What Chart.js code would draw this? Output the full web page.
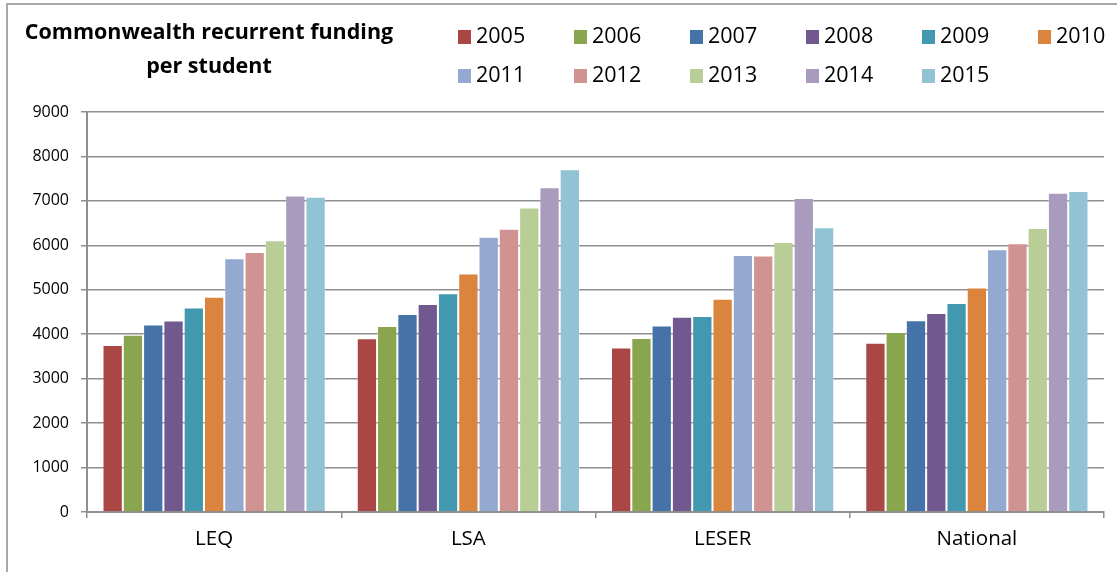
<!DOCTYPE html>
<html>
<head>
<meta charset="utf-8">
<script src="https://cdn.jsdelivr.net/npm/chart.js@4.4.1/dist/chart.umd.min.js"></script>
<style>
  html, body { margin: 0; padding: 0; background: #fff; overflow: hidden; }
  #wrap { position: relative; width: 1117px; height: 572px; }
  #frame { position: absolute; left: 6px; top: 3px; width: 1300px; height: 800px;
           border: 2px solid #a8a8a8; box-sizing: border-box; }
  #chart { position: absolute; left: 0; top: 0; }
  .title { position: absolute; left: 0; width: 418px; text-align: center;
           font: bold 21.5px "Open Sans", sans-serif; color: #000; }
  .legend-item { position: absolute; font: 21.5px "Open Sans", sans-serif; color: #000;
                 line-height: 26px; white-space: nowrap; }
  .legend-item span { display: inline-block; width: 13px; height: 14px;
                      margin-right: 5px; vertical-align: -1px; }
</style>
</head>
<body>
<div id="wrap">
  <div id="frame"></div>
  <canvas id="chart" width="1117" height="572"></canvas>
  <div class="title" style="top:16px">Commonwealth recurrent funding</div>
  <div class="title" style="top:50px">per student</div>
  <div id="legend"></div>
</div>
<script>
var regions = ['LEQ', 'LSA', 'LESER', 'National'];
var years = ['2005', '2006', '2007', '2008', '2009', '2010', '2011', '2012', '2013', '2014', '2015'];
var colors = ['#aa4643', '#89a54e', '#4572a7', '#71588f', '#4198af', '#db843d',
              '#93a9cf', '#d19392', '#b9cd96', '#a99bbd', '#92c3d4'];

// funding per student, one array per region, in year order
var leq      = [3760, 3990, 4220, 4310, 4600, 4845, 5710, 5850, 6115, 7120, 7095];
var lsa      = [3910, 4185, 4455, 4680, 4920, 5365, 6195, 6375, 6850, 7305, 7710];
var leser    = [3700, 3915, 4195, 4395, 4410, 4800, 5785, 5770, 6075, 7065, 6405];
var national = [3810, 4050, 4315, 4478, 4705, 5050, 5910, 6045, 6390, 7185, 7225];

var yTicks = [0, 1000, 2000, 3000, 4000, 5000, 6000, 7000, 8000, 9000];

function buildDatasets() {
  return years.map(function (year, i) {
    return {
      label: year,
      data: [leq[i], lsa[i], leser[i], national[i]],
      backgroundColor: colors[i],
      borderColor: 'rgba(255,255,255,0.25)',
      borderWidth: 1,
      borderSkipped: 'bottom',
      categoryPercentage: 0.878,
      barPercentage: 1.0
    };
  });
}

function drawLegend(datasets) {
  var box = document.getElementById('legend');
  datasets.forEach(function (ds, i) {
    var item = document.createElement('div');
    item.className = 'legend-item';
    item.style.left = (458 + (i % 6) * 116) + 'px';
    item.style.top = (22 + Math.floor(i / 6) * 39) + 'px';
    item.innerHTML = '<span style="background:' + ds.backgroundColor + '"></span>' + ds.label;
    box.appendChild(item);
  });
}

var datasets = buildDatasets();
drawLegend(datasets);

var gridGray = '#8f8f8f';

new Chart(document.getElementById('chart'), {
  type: 'bar',
  data: { labels: regions, datasets: datasets },
  options: {
    responsive: false,
    animation: false,
    layout: { padding: { top: 112, right: 13, bottom: 0, left: 0 } },
    plugins: { legend: { display: false }, tooltip: { enabled: false } },
    scales: {
      x: {
        grid: { offset: true, drawOnChartArea: false, drawTicks: true, tickLength: 6,
                color: gridGray, lineWidth: 1.5 },
        border: { color: gridGray, width: 2 },
        ticks: { color: '#000', padding: 9, font: { family: 'Open Sans', size: 20.5 } },
        afterFit: function (scale) { scale.height = 60; }
      },
      y: {
        min: 0,
        max: 9000,
        afterBuildTicks: function (scale) {
          scale.ticks = yTicks.map(function (v) { return { value: v }; });
        },
        grid: { color: gridGray, lineWidth: 1.5, tickLength: 6 },
        border: { color: gridGray, width: 2 },
        ticks: {
          color: '#000', padding: 12, font: { family: 'Open Sans', size: 16 },
          callback: function (v) { return String(v); }
        },
        afterFit: function (scale) { scale.width = 87; }
      }
    }
  }
});
</script>
</body>
</html>
